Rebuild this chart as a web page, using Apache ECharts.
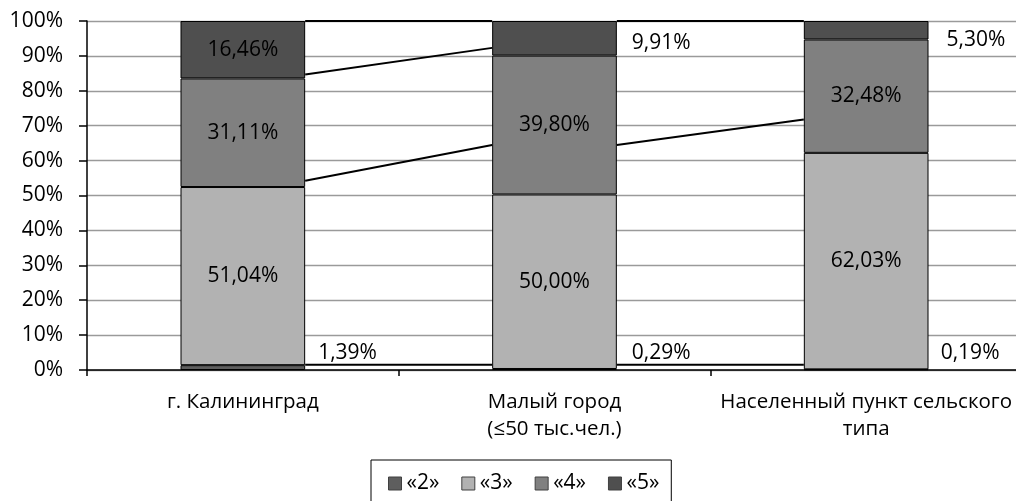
<!DOCTYPE html>
<html><head><meta charset="utf-8">
<script src="https://cdn.jsdelivr.net/npm/echarts@6/dist/echarts.min.js"></script>
<style>html,body{margin:0;padding:0;background:#fff;overflow:hidden}#c{width:1022px;height:501px}</style>
</head><body><div id="c"></div>
<script>
const categories = ['г. Калининград', 'Малый город\n(≤50 тыс.чел.)', 'Населенный пункт сельского\nтипа'];
const seriesNames = ['«2»', '«3»', '«4»', '«5»'];
const grade2 = [1.39, 0.29, 0.19];
const grade3 = [51.04, 50.00, 62.03];
const grade4 = [31.11, 39.80, 32.48];
const grade5 = [16.46, 9.91, 5.30];
const yMin = 0, yMax = 100, yStep = 10;
// connector lines between adjacent columns: [leftColumnIndex, valueAtLeftColumn, valueAtRightColumn]
const connectorLines = [
  [0, 100, 100], [1, 100, 100],
  [0, 84.7, 92.3],
  [0, 54.2, 64.5], [1, 64.5, 71.8],
  [0, 1.5, 1.5], [1, 1.5, 1.5]
];

const FONT = "'Open Sans', sans-serif";
const colors = ['#5e5e5e', '#b2b2b2', '#808080', '#4f4f4f'];
const fmt = v => v.toFixed(2).replace('.', ',') + '%';

// label placement styles (outside-right labels)
const outside2 = [{dx: 8, dy: -14.5}, {dx: 10, dy: -16.5}, {dx: 7, dy: -16.5}];
const outside5 = [null, {dx: 10, dy: 5}, {dx: 13, dy: 10}];

function makeData(vals, outside) {
  return vals.map((v, i) => {
    const o = outside ? outside[i] : null;
    if (o) return {value: v, label: {position: 'right', distance: 5, offset: [o.dx, o.dy]}};
    return {value: v};
  });
}

const allVals = [grade2, grade3, grade4, grade5];
const outsides = [outside2, null, null, outside5];

const barSeries = allVals.map((vals, k) => ({
  name: seriesNames[k],
  type: 'bar',
  stack: 'total',
  barWidth: '40%',
  data: makeData(vals, outsides[k]),
  itemStyle: {color: colors[k], borderColor: '#000', borderWidth: 1},
  label: {
    show: true, position: 'inside', color: '#000',
    fontFamily: FONT, fontSize: 21,
    formatter: p => fmt(p.value)
  },
  z: 3
}));

const chart = echarts.init(document.getElementById('c'), null, {renderer: 'canvas'});
chart.setOption({
  animation: false,
  backgroundColor: '#fff',
  textStyle: {fontFamily: FONT},
  grid: {left: 87, right: 0, top: 21, bottom: 131, containLabel: false},
  xAxis: {
    type: 'category',
    data: categories,
    axisLine: {lineStyle: {color: '#000', width: 1.5}},
    axisTick: {show: true, length: 6, lineStyle: {color: '#000', width: 1.5}},
    axisLabel: {color: '#000', fontSize: 20.5, fontFamily: FONT, lineHeight: 27, margin: 19, interval: 0}
  },
  yAxis: {
    type: 'value',
    min: yMin, max: yMax, interval: yStep,
    axisLine: {show: true, lineStyle: {color: '#000', width: 1.5}},
    axisTick: {show: true, length: 8, lineStyle: {color: '#000', width: 1.5}},
    axisLabel: {color: '#000', fontSize: 21, fontFamily: FONT, margin: 24, formatter: '{value}%'},
    splitLine: {show: true, lineStyle: {color: '#9a9a9a', width: 1.3}}
  },
  legend: {
    data: seriesNames,
    left: 371, top: 460,
    orient: 'horizontal',
    borderColor: '#000', borderWidth: 1,
    padding: [13, 12, 14, 17],
    itemWidth: 13, itemHeight: 13, itemGap: 22,
    icon: 'rect',
    itemStyle: {borderColor: '#404040', borderWidth: 1},
    textStyle: {color: '#000', fontSize: 21, fontFamily: FONT}
  },
  series: barSeries.concat([{
    type: 'custom',
    name: 'connectors',
    data: connectorLines,
    encode: {x: 0, y: [1, 2]},
    clip: false,
    silent: true,
    z: 4,
    renderItem: function (params, api) {
      const i = api.value(0);
      const p1 = api.coord([i, api.value(1)]);
      const p2 = api.coord([i + 1, api.value(2)]);
      const bw = api.size([1, 0])[0] * 0.4;
      return {
        type: 'line',
        shape: {x1: p1[0] + bw / 2, y1: p1[1], x2: p2[0] - bw / 2, y2: p2[1]},
        style: {stroke: '#000', lineWidth: 2}
      };
    }
  }])
});
</script>
</body></html>
